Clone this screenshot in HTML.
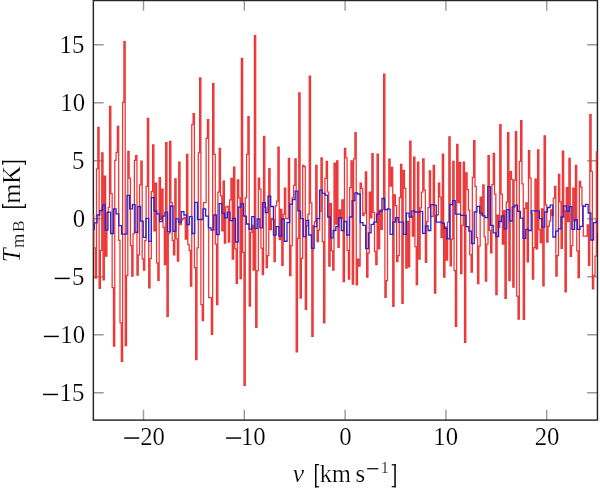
<!DOCTYPE html>
<html><head><meta charset="utf-8"><style>
html,body{margin:0;padding:0;background:#fff;width:600px;height:489px;overflow:hidden}
svg{display:block;will-change:transform}
text{font-family:"Liberation Serif",serif} .lbl text{stroke:#fff;stroke-width:0.2px}
</style></head><body>
<svg width="600" height="489" viewBox="0 0 600 489"><defs><clipPath id="c"><rect x="93.35" y="0.5" width="504.10" height="419.60"/></clipPath></defs><path d="M143.50 420.1V409.80M143.50 0.5V10.80M244.30 420.1V409.80M244.30 0.5V10.80M345.10 420.1V409.80M345.10 0.5V10.80M445.90 420.1V409.80M445.90 0.5V10.80M546.70 420.1V409.80M546.70 0.5V10.80M93.35 392.81H103.65M597.45 392.81H587.15M93.35 334.79H103.65M597.45 334.79H587.15M93.35 276.77H103.65M597.45 276.77H587.15M93.35 218.75H103.65M597.45 218.75H587.15M93.35 160.73H103.65M597.45 160.73H587.15M93.35 102.71H103.65M597.45 102.71H587.15M93.35 44.69H103.65M597.45 44.69H587.15" stroke="#9a9a9a" stroke-width="1.4" fill="none"/><rect x="93.35" y="0.5" width="504.10" height="419.60" fill="none" stroke="#262626" stroke-width="1.45"/><g clip-path="url(#c)"><path d="M92.59 215.85H93.89V247.76H95.20V278.05H96.50V168.97H97.81V127.31H99.11V288.37H100.42V250.31H101.72V152.96H103.03V279.90H104.33V176.05H105.64V256.00H106.94V212.48H108.25V207.49H109.55V106.42H110.86V193.69H112.16V287.56H113.47V346.16H114.77V160.38H116.08V152.26H117.38V126.27H118.69V240.33H119.99V322.84H121.30V361.25H122.60V102.25H123.91V41.67H125.21V345.70H126.52V275.26H127.82V151.45H129.13V178.02H130.43V245.67H131.74V276.07H133.04V233.95H134.35V160.38H135.65V155.51H136.96V275.03H138.26V254.95H139.57V184.87H140.87V161.19H142.18V258.90H143.48V270.04H144.79V240.57H146.09V186.49H147.40V118.26H148.70V287.91H150.01V258.55H151.31V191.71H152.62V144.83H153.92V230.93H155.23V183.01H156.53V262.85H157.84V280.25H159.14V177.56H160.45V219.45H161.75V189.04H163.06V227.34H164.36V264.59H165.67V142.63H166.97V316.34H168.28V233.72H169.58V141.35H170.89V202.50H172.19V240.33H173.50V254.95H174.80V178.95H176.11V238.82H177.41V261.22H178.72V162.12H180.02V224.55H181.33V220.03H182.63V218.63H183.94V217.47H185.24V239.06H186.55V154.35H187.85V244.74H189.16V250.31H190.46V286.05H191.77V124.53H193.07V113.50H194.38V267.72H195.68V359.62H196.99V247.76H198.29V152.96H199.60V77.99H200.90V304.50H202.21V320.63H203.51V202.74H204.82V202.50H206.12V138.33H207.43V119.54H208.73V297.66H210.04V297.66H211.34V334.33H212.65V83.56H213.95V154.35H215.26V244.16H216.56V304.50H217.87V192.18H219.17V148.31H220.48V195.89H221.78V230.93H223.09V181.04H224.39V243.12H225.70V206.80H227.00V206.45H228.31V242.19H229.61V199.95H230.92V178.48H232.22V259.02H233.53V167.00H234.83V248.80H236.14V283.27H237.44V179.99H238.75V197.98H240.05V278.74H241.36V58.38H242.66V252.40H243.97V385.27H245.27V197.98H246.58V154.35H247.88V116.63H249.19V306.01H250.49V232.44H251.80V225.36H253.10V270.04H254.41V35.52H255.71V327.48H257.02V270.74H258.32V178.02H259.63V189.04H260.93V248.11H262.24V274.57H263.54V136.25H264.85V207.49H266.15V267.72H267.46V255.65H268.76V168.62H270.07V229.54H271.37V218.40H272.68V219.56H273.98V261.57H275.29V205.87H276.59V201.00H277.90V147.15H279.20V239.64H280.51V209.47H281.81V265.40H283.12V214.46H284.42V188.00H285.73V218.40H287.03V218.87H288.34V158.29H289.64V275.61H290.95V245.67H292.25V197.51H293.56V185.45H294.86V158.76H296.17V351.85H297.47V238.36H298.78V92.96H300.08V298.01H301.39V258.32H302.69V165.26H304.00V166.65H305.30V309.38H306.61V225.94H307.91V214.34H309.22V76.02H310.52V202.97H311.83V336.30H313.13V225.71H314.44V221.77H315.74V165.26H317.05V241.73H318.35V230.24H319.66V211.09H320.96V157.95H322.27V241.73H323.57V322.84H324.88V178.48H326.18V161.31H327.49V192.06H328.79V266.09H330.10V203.55H331.40V250.78H332.71V270.04H334.01V163.17H335.32V224.09H336.62V160.85H337.93V247.30H339.23V209.93H340.54V218.52H341.84V199.95H343.15V281.53H344.45V148.31H345.76V157.95H347.06V250.31H348.37V279.09H349.67V187.65H350.98V160.85H352.28V284.20H353.59V158.99H354.89V132.53H356.20V284.78H357.50V259.02H358.81V266.09H360.11V183.01H361.42V188.46H362.72V215.50H364.03V213.18H365.33V171.99H366.64V277.23H367.94V253.21H369.25V192.06H370.55V217.82H371.86V153.65H373.16V212.37H374.47V251.36H375.77V264.59H377.08V154.00H378.38V248.80H379.69V210.16H380.99V229.43H382.30V209.58H383.60V74.05H384.91V297.31H386.21V280.72H387.52V208.65H388.82V159.22H390.13V186.03H391.43V167.34H392.74V306.36H394.04V194.96H395.35V205.52H396.65V261.57H397.96V255.65H399.26V197.51H400.57V164.33H401.87V303.34H403.18V170.36H404.48V188.46H405.79V268.07H407.09V221.30H408.40V266.91H409.70V141.12H411.01V216.20H412.31V236.04H413.62V157.13H414.92V246.60H416.23V284.54H417.53V162.12H418.84V259.02H420.14V207.96H421.45V192.06H422.75V158.99H424.06V190.20H425.36V262.26H426.67V221.53H427.97V207.61H429.28V170.94H430.58V216.66H431.89V216.31H433.19V165.49H434.50V293.02H435.80V215.50H437.11V214.69H438.41V183.01H439.72V197.05H441.02V237.55H442.33V154.00H443.63V277.23H444.94V226.87H446.24V260.06H447.55V222.12H448.85V136.83H450.16V265.75H451.46V239.06H452.77V161.31H454.07V270.74H455.38V326.44H456.68V144.48H457.99V202.50H459.29V162.35H460.60V273.52H461.90V225.25H463.21V162.12H464.51V342.33H465.82V172.91H467.12V189.51H468.43V210.05H469.73V254.61H471.04V272.01H472.34V177.32H473.65V140.66H474.95V186.49H476.26V237.55H477.56V283.50H478.87V246.02H480.17V197.05H481.48V214.80H482.78V184.98H484.09V236.97H485.39V281.18H486.70V244.16H488.00V155.51H489.31V230.35H490.61V252.87H491.92V184.52H493.22V153.42H494.53V194.03H495.83V294.52H497.14V215.04H498.44V227.34H499.75V124.53H501.05V194.15H502.36V244.16H503.66V210.74H504.97V298.35H506.27V202.04H507.58V132.53H508.88V280.72H510.19V171.64H511.49V179.30H512.80V287.21H514.10V180.46H515.41V131.72H516.71V296.03H518.02V319.01H519.32V161.31H520.63V120.70H521.93V183.94H523.24V319.47H524.54V208.42H525.85V202.97H527.15V261.80H528.46V150.63H529.76V178.02H531.07V213.06H532.37V279.21H533.68V247.64H534.98V179.18H536.29V248.80H537.59V149.82H538.90V229.54H540.20V242.65H541.51V208.77H542.81V285.82H544.12V135.78H545.42V204.94H546.73V242.19H548.03V226.18H549.34V221.19H550.64V209.81H551.95V215.50H553.25V198.44H554.56V186.26H555.86V276.07H557.17V255.53H558.47V174.42H559.78V201.92H561.08V248.34H562.39V151.10H563.69V211.09H565.00V291.86H566.30V187.65H567.61V221.65H568.91V158.29H570.22V256.46H571.52V245.67H572.83V188.12H574.13V220.84H575.44V165.26H576.74V250.89H578.05V277.58H579.35V181.27H580.66V187.19H581.96V205.29H583.27V236.16H584.57V236.16H585.88V236.16H587.18V224.78H588.49V265.40H589.79V114.55H591.10V171.29H592.40V288.84H593.71V275.26H595.01V256.11H596.32V151.79H597.62V232.67H598.93" fill="none" stroke="#ec3434" stroke-width="1.25"/><path d="M91.68 229.60H94.39V222.80H97.10V215.00H99.82V210.50H102.53V204.89H105.24V230.10H107.95V212.21H110.67V233.50H113.38V208.81H116.09V213.80H118.81V225.60H121.52V234.10H124.23V234.10H126.95V195.30H129.66V208.81H132.37V204.60H135.09V232.40H137.80V206.50H140.51V221.11H143.22V237.40H145.94V218.30H148.65V241.40H151.36V197.60H154.08V211.00H156.79V213.80H159.50V221.70H162.22V216.10H164.93V212.21H167.64V231.80H170.35V206.00H173.07V231.31H175.78V218.90H178.49V222.30H181.21V211.60H183.92V215.00H186.63V224.51H189.35V216.70H192.06V233.50H194.77V202.40H197.48V219.50H200.20V219.50H202.91V208.81H205.62V216.10H208.34V227.91H211.05V230.10H213.76V215.00H216.48V234.60H219.19V203.70H221.90V213.30H224.61V217.80H227.33V212.21H230.04V220.60H232.75V218.30H235.47V242.00H238.18V207.10H240.89V203.70H243.61V216.10H246.32V224.00H249.03V229.00H251.74V216.70H254.46V228.40H257.17V218.90H259.88V227.91H262.60V202.60H265.31V212.60H268.02V196.20H270.74V206.50H273.45V235.20H276.16V226.59H278.87V236.10H281.59V219.01H284.30V241.25H287.01V222.50H289.73V204.11H292.44V199.50H295.15V191.20H297.87V210.80H300.58V218.70H303.29V236.70H306.00V220.40H308.72V235.00H311.43V248.31H314.14V226.59H316.86V218.70H319.57V190.10H322.28V193.40H325.00V195.10H327.71V217.00H330.42V237.80H333.13V230.50H335.85V226.59H338.56V217.60H341.27V230.50H343.99V221.50H346.70V235.00H349.41V217.00H352.12V200.71H354.84V192.90H357.55V194.00H360.26V222.60H362.98V225.40H365.69V248.60H368.40V232.80H371.12V224.30H373.83V222.10H376.54V214.20H379.25V211.40H381.97V198.50H384.68V209.70H387.39V209.20H390.11V234.40H392.82V222.10H395.53V217.60H398.25V222.10H400.96V222.10H403.67V234.40H406.38V213.10H409.10V217.00H411.81V210.80H414.52V212.00H417.24V212.00H419.95V211.40H422.66V233.30H425.38V226.00H428.09V230.50H430.80V204.70H433.51V205.20H436.23V222.10H438.94V222.10H441.65V223.19H444.37V228.30H447.08V238.89H449.79V204.70H452.51V200.71H455.22V214.20H457.93V214.20H460.65V215.30H463.36V215.30H466.07V226.59H468.78V231.10H471.50V243.50H474.21V212.00H476.92V206.30H479.64V213.10H482.35V215.90H485.06V217.60H487.78V186.70H490.49V225.40H493.20V232.80H495.91V236.70H498.63V221.50H501.34V215.90H504.05V228.80H506.77V209.70H509.48V221.00H512.19V206.90H514.90V205.20H517.62V211.40H520.33V218.10H523.04V238.40H525.76V229.40H528.47V230.50H531.18V210.80H533.90V210.80H536.61V210.80H539.32V218.70H542.04V227.10H544.75V212.00H547.46V207.51H550.17V205.20H552.89V237.00H555.60V231.10H558.31V228.80H561.03V217.00H563.74V205.80H566.45V211.20H569.16V206.60H571.88V229.40H574.59V219.70H577.30V229.40H580.02V226.30H582.73V206.40H585.44V204.30H588.16V212.99H590.87V240.00H593.58V222.70H596.30V221.20H599.01" fill="none" stroke="#2424d6" stroke-width="1.3"/></g><g fill="#000" class="lbl"><text x="59.57" y="400.91" font-size="24.8">15</text><rect x="43.05" y="393.74" width="15.0" height="1.45"/><text x="60.34" y="342.89" font-size="24.8">10</text><rect x="43.82" y="335.71" width="15.0" height="1.45"/><text x="71.97" y="284.87" font-size="24.8">5</text><rect x="54.71" y="277.69" width="15.0" height="1.45"/><text x="72.74" y="226.85" font-size="24.8">0</text><text x="71.97" y="168.83" font-size="24.8">5</text><text x="60.34" y="110.81" font-size="24.8">10</text><text x="59.57" y="52.79" font-size="24.8">15</text><text x="140.14" y="444.50" font-size="24.8">20</text><rect x="124.23" y="437.32" width="15.0" height="1.45"/><text x="240.94" y="444.50" font-size="24.8">10</text><rect x="226.12" y="437.32" width="15.0" height="1.45"/><text x="339.30" y="444.50" font-size="24.8">0</text><text x="433.28" y="444.50" font-size="24.8">10</text><text x="534.63" y="444.50" font-size="24.8">20</text><text x="292.65" y="481.80" font-size="25.5" font-style="italic">v</text><rect x="315.00" y="464.00" width="1.5" height="23.40"/><rect x="315.00" y="464.00" width="4.1" height="1.2"/><rect x="315.00" y="486.20" width="4.1" height="1.2"/><text x="319.84" y="481.80" font-size="24.3">km</text><text x="355.48" y="481.80" font-size="24.8">s</text><rect x="367.1" y="468.15" width="11.2" height="1.2"/><text x="380.78" y="472.90" font-size="16.2">1</text><rect x="394.30" y="464.20" width="1.5" height="23.10"/><rect x="391.70" y="464.20" width="4.1" height="1.2"/><rect x="391.70" y="486.10" width="4.1" height="1.2"/><g transform="rotate(-90)"><text x="-262.14" y="19.90" font-size="25.0" font-style="italic">T</text><text x="-248.09" y="24.00" font-size="18.5">m</text><text x="-231.90" y="24.00" font-size="17.5">B</text><text x="-203.54" y="20.00" font-size="25.5">m</text><text x="-183.71" y="20.10" font-size="24.5">K</text></g><rect x="2.10" y="206.40" width="23.90" height="1.5"/><rect x="2.10" y="203.90" width="1.2" height="4.0"/><rect x="24.80" y="203.90" width="1.2" height="4.0"/><rect x="2.10" y="160.80" width="23.90" height="1.5"/><rect x="2.10" y="160.80" width="1.2" height="4.0"/><rect x="24.80" y="160.80" width="1.2" height="4.0"/></g></svg>
</body></html>
